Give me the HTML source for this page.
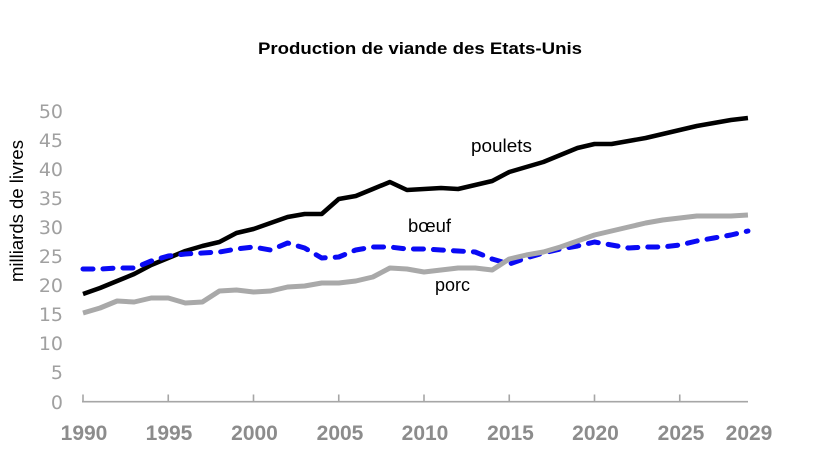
<!DOCTYPE html>
<html>
<head>
<meta charset="utf-8">
<style>
  html, body { margin:0; padding:0; background:#fff; }
  svg { display:block; }
</style>
</head>
<body>
<svg width="820" height="462" viewBox="0 0 820 462" xmlns="http://www.w3.org/2000/svg">
  <rect width="820" height="462" fill="#fff"/>
  <!-- Title -->
  <text x="420" y="54" text-anchor="middle" font-family="Liberation Sans, Arial, sans-serif" font-weight="bold" font-size="17" textLength="324" lengthAdjust="spacingAndGlyphs" fill="#000">Production de viande des Etats-Unis</text>

  <!-- Y axis title -->
  <text transform="translate(23,211) rotate(-90)" text-anchor="middle" font-family="Liberation Sans, Arial, sans-serif" font-size="18" textLength="142" lengthAdjust="spacingAndGlyphs" fill="#000">milliards de livres</text>

  <!-- Y tick labels -->
  <g font-family="DejaVu Sans, sans-serif" font-size="19" fill="#a0a0a0" text-anchor="end">
    <text x="63" y="118">50</text>
    <text x="63" y="147">45</text>
    <text x="63" y="176">40</text>
    <text x="63" y="205">35</text>
    <text x="63" y="234">30</text>
    <text x="63" y="263">25</text>
    <text x="63" y="292">20</text>
    <text x="63" y="321">15</text>
    <text x="63" y="350">10</text>
    <text x="63" y="379">5</text>
    <text x="63" y="409">0</text>
  </g>

  <!-- X axis -->
  <g stroke="#a6a6a6" stroke-width="1.6" fill="none">
    <line x1="82" y1="401.7" x2="748" y2="401.7"/>
    <line x1="83" y1="394.5" x2="83" y2="401.7"/>
    <line x1="168.25" y1="394.5" x2="168.25" y2="401.7"/>
    <line x1="253.5" y1="394.5" x2="253.5" y2="401.7"/>
    <line x1="338.75" y1="394.5" x2="338.75" y2="401.7"/>
    <line x1="424" y1="394.5" x2="424" y2="401.7"/>
    <line x1="509.25" y1="394.5" x2="509.25" y2="401.7"/>
    <line x1="594.5" y1="394.5" x2="594.5" y2="401.7"/>
    <line x1="679.75" y1="394.5" x2="679.75" y2="401.7"/>
  </g>

  <!-- X tick labels -->
  <g font-family="Liberation Sans, Arial, sans-serif" font-weight="bold" font-size="21" fill="#8c8c8c" text-anchor="middle">
    <text x="84" y="440">1990</text>
    <text x="169" y="440">1995</text>
    <text x="254.5" y="440">2000</text>
    <text x="340" y="440">2005</text>
    <text x="425" y="440">2010</text>
    <text x="510.5" y="440">2015</text>
    <text x="595.5" y="440">2020</text>
    <text x="681" y="440">2025</text>
    <text x="749" y="440">2029</text>
  </g>

  <!-- Poulets (black) -->
  <polyline fill="none" stroke="#000" stroke-width="4.5" stroke-linejoin="round" stroke-linecap="butt"
    points="83,294 100.05,288 117.1,281 134.15,274 151.2,265 168.25,258 185.3,251 202.35,246 219.4,242 236.45,233 253.5,229 270.55,223 287.6,217 304.65,214 321.7,214 338.75,199 355.8,196 372.85,189 389.9,182 406.95,190 424,189 441.05,188 458.1,189 475.15,185 492.2,181 509.25,172 526.3,167 543.35,162 560.4,155 577.45,148 594.5,144 611.55,144 628.6,141 645.65,138 662.7,134 679.75,130 696.8,126 713.85,123 730.9,120 747.95,118"/>

  <!-- Boeuf (blue dashed) -->
  <polyline fill="none" stroke="#0a0af5" stroke-width="5" stroke-linejoin="round" stroke-linecap="round" stroke-dasharray="10 10"
    points="83,269 100.05,269 117.1,268 134.15,268 151.2,261 168.25,256 185.3,254 202.35,253 219.4,252 236.45,249 253.5,247 270.55,250 287.6,243 304.65,248 321.7,258 338.75,257 355.8,250 372.85,247 389.9,247 406.95,249 424,249 441.05,250 458.1,251 475.15,252 492.2,259 509.25,264 526.3,258 543.35,253 560.4,249 577.45,246 594.5,242 611.55,245 628.6,248 645.65,247 662.7,247 679.75,245 696.8,241 713.85,238 730.9,235 747.95,231"/>

  <!-- Porc (gray) -->
  <polyline fill="none" stroke="#a9a9a9" stroke-width="5" stroke-linejoin="round" stroke-linecap="butt"
    points="83,313 100.05,308 117.1,301 134.15,302 151.2,298 168.25,298 185.3,303 202.35,302 219.4,291 236.45,290 253.5,292 270.55,291 287.6,287 304.65,286 321.7,283 338.75,283 355.8,281 372.85,277 389.9,268 406.95,269 424,272 441.05,270 458.1,268 475.15,268 492.2,270 509.25,259 526.3,255 543.35,252 560.4,247 577.45,241 594.5,235 611.55,231 628.6,227 645.65,223 662.7,220 679.75,218 696.8,216 713.85,216 730.9,216 747.95,215"/>

  <!-- Series labels -->
  <g font-family="Liberation Sans, Arial, sans-serif" font-size="18" fill="#000">
    <text x="471" y="152" textLength="61" lengthAdjust="spacingAndGlyphs">poulets</text>
    <text x="408" y="232" textLength="43" lengthAdjust="spacingAndGlyphs">bœuf</text>
    <text x="435" y="291" textLength="35" lengthAdjust="spacingAndGlyphs">porc</text>
  </g>
</svg>
</body>
</html>
